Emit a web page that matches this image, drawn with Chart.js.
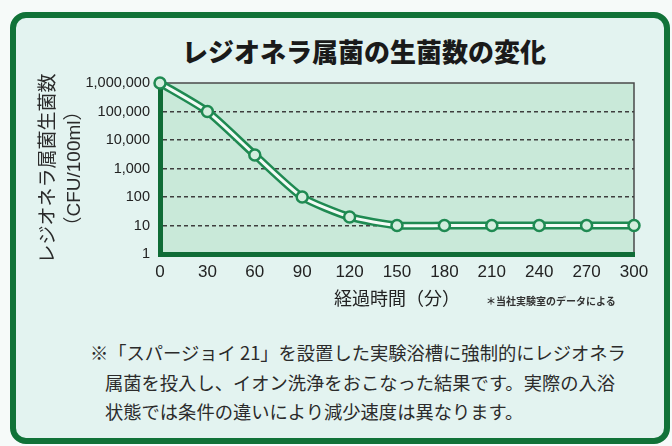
<!DOCTYPE html>
<html lang="ja">
<head>
<meta charset="utf-8">
<script src="https://cdn.jsdelivr.net/npm/chart.js@4.4.0/dist/chart.umd.min.js"></script>
<style>
  html, body { margin: 0; padding: 0; width: 672px; height: 446px; overflow: hidden; background: #f6faf9; }
  .panneau {
    position: absolute; left: 10px; top: 12px; width: 648px; height: 420px;
    border: 6px solid #117238; border-radius: 16px; background: #e3f3f0;
  }
  .titre {
    position: absolute; left: 0; width: 728px; top: 33px; text-align: center;
    font-family: "Noto Sans CJK JP", sans-serif; font-weight: 900; font-size: 26px;
    line-height: 36px; color: #1a1a1a;
  }
  #graphique { position: absolute; left: 0; top: 0; }
  .source {
    position: absolute; left: 486px; top: 293px; font-family: "Noto Sans CJK JP", sans-serif;
    font-weight: 700; font-size: 10px; line-height: 16px; color: #333; white-space: nowrap;
  }
  .note {
    position: absolute; font-family: "Noto Sans CJK JP", sans-serif; font-size: 18.3px;
    line-height: 30px; color: #2b2b2b; white-space: nowrap;
  }
</style>
</head>
<body>
<div class="panneau"></div>
<div class="titre">レジオネラ属菌の生菌数の変化</div>
<canvas id="graphique" width="672" height="320"></canvas>
<div class="source">＊当社実験室のデータによる</div>
<div class="note" style="left:90px; top:337px;">※「スパージョイ 21」を設置した実験浴槽に強制的にレジオネラ</div>
<div class="note" style="left:105px; top:367px;">属菌を投入し、イオン洗浄をおこなった結果です。実際の入浴</div>
<div class="note" style="left:105px; top:396px;">状態では条件の違いにより減少速度は異なります。</div>
<script>
// Données
const minutes = ["0", "30", "60", "90", "120", "150", "180", "210", "240", "270", "300"];
const nbBacteries = [1000000, 100000, 3000, 100, 20, 10, 10, 10, 10, 10, 10];
const graduationsY = [1, 10, 100, 1000, 10000, 100000, 1000000];

const vertFonce = "#0f6c36";
const vertTrait = "#1f8a52";

// Fond vert clair de la zone de tracé + cadre fin en haut et à droite
const fondZone = {
  id: "fondZone",
  beforeDraw(chart) {
    const { ctx, chartArea: a } = chart;
    ctx.save();
    ctx.fillStyle = "#c9e9d9";
    ctx.fillRect(a.left, a.top, a.right - a.left, a.bottom - a.top);
    ctx.strokeStyle = "#4a4a4a";
    ctx.lineWidth = 1.5;
    ctx.beginPath();
    ctx.moveTo(a.left, a.top);
    ctx.lineTo(a.right, a.top);
    ctx.lineTo(a.right, a.bottom);
    ctx.stroke();
    ctx.restore();
  },
};

const data = {
  labels: minutes,
  datasets: [
    {
      // trait intérieur blanc + marqueurs
      data: nbBacteries,
      borderColor: "#f3fbf6",
      borderWidth: 3,
      pointRadius: 5.5,
      pointHoverRadius: 5.5,
      pointBorderWidth: 2.5,
      pointBorderColor: vertTrait,
      pointBackgroundColor: "#d3eede",
      tension: 0.2,
      clip: 12,
      order: 0,
    },
    {
      // contour vert du double trait
      data: nbBacteries,
      borderColor: vertTrait,
      borderWidth: 8,
      pointRadius: 0,
      tension: 0.2,
      clip: 12,
      order: 1,
    },
  ],
};

const config = {
  type: "line",
  data: data,
  plugins: [fondZone],
  options: {
    responsive: false,
    animation: false,
    layout: { padding: { top: 83, right: 38, left: 0, bottom: 0 } },
    plugins: { legend: { display: false }, tooltip: { enabled: false } },
    scales: {
      x: {
        grid: { display: false, drawTicks: false },
        border: { display: true, color: vertFonce, width: 5 },
        ticks: {
          color: "#222",
          padding: 8,
          maxRotation: 0,
          autoSkip: false,
          font: { family: "'Liberation Sans', Arial, sans-serif", size: 17 },
        },
        title: {
          display: true,
          text: "経過時間（分）",
          color: "#222",
          padding: { top: 0, bottom: 11 },
          font: { family: "'Noto Sans CJK JP', sans-serif", size: 18 },
        },
        afterFit(scale) {
          scale.height = 66;
        },
      },
      y: {
        type: "logarithmic",
        min: 1,
        max: 1000000,
        afterBuildTicks(scale) {
          scale.ticks = graduationsY.map((v) => ({ value: v }));
        },
        grid: {
          drawTicks: false,
          lineWidth: 1.5,
          color: (ctx) =>
            ctx.tick && (ctx.tick.value === 1 || ctx.tick.value === 1000000)
              ? "rgba(0,0,0,0)"
              : "#3e3e3e",
        },
        border: { display: true, color: vertFonce, width: 5, dash: [4, 3] },
        ticks: {
          color: "#222",
          padding: 10,
          font: { family: "'Liberation Sans', Arial, sans-serif", size: 14.5 },
          callback: (v) => Number(v).toLocaleString("en-US"),
        },
        title: {
          display: true,
          text: ["レジオネラ属菌生菌数", "（CFU/100ml）"],
          color: "#2a2a2a",
          padding: { top: 36, bottom: 0 },
          font: { family: "'Liberation Sans', 'Noto Sans CJK JP', sans-serif", size: 19, lineHeight: 1.35 },
        },
        afterFit(scale) {
          scale.width = 160;
        },
      },
    },
  },
};

const graphique = new Chart(document.querySelector("#graphique"), config);
</script>
</body>
</html>
